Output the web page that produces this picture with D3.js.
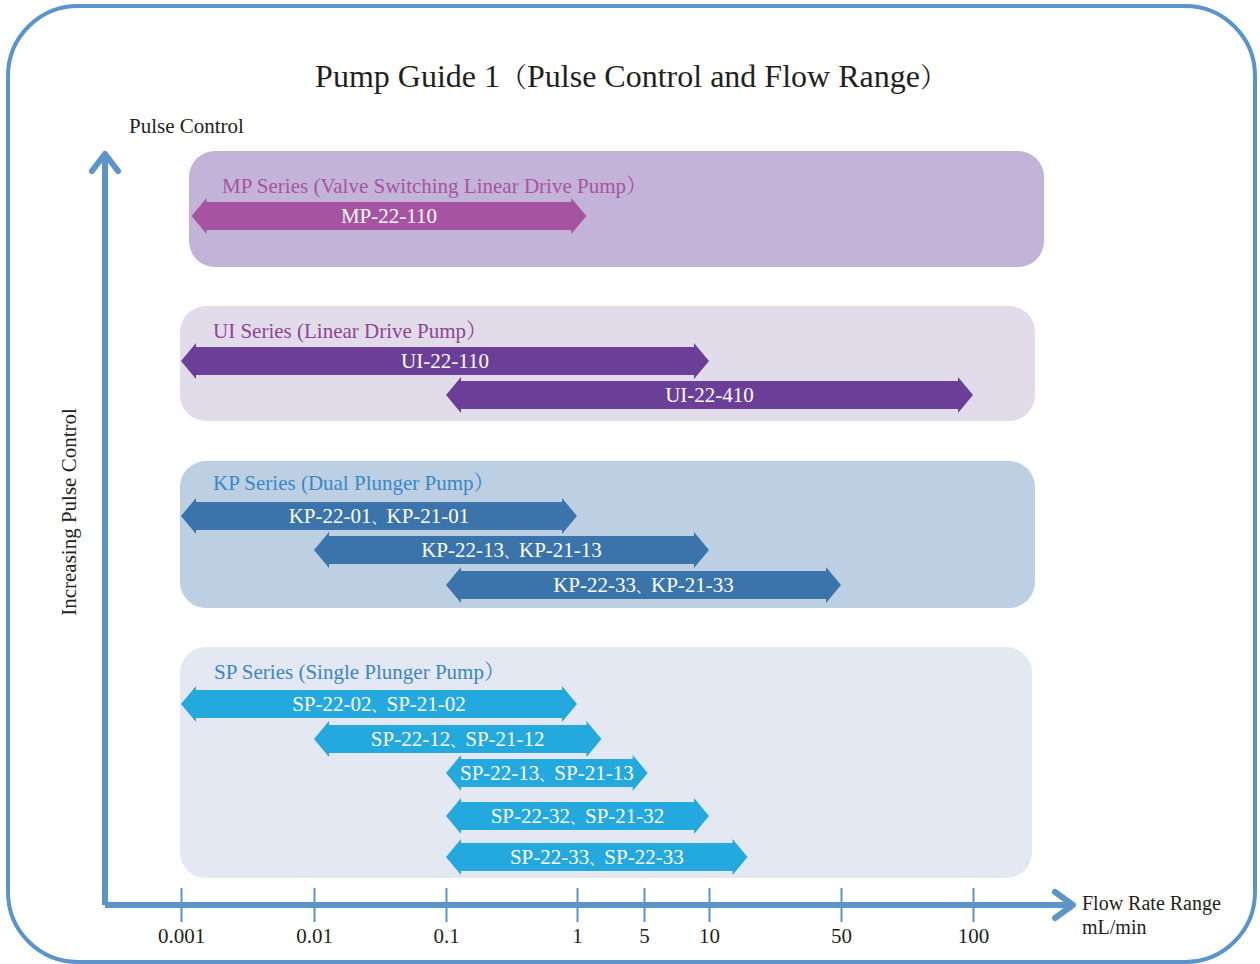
<!DOCTYPE html>
<html>
<head>
  <meta charset="utf-8"/>
  <title>Pump Guide 1</title>
  <script src="https://d3js.org/d3.v7.min.js"></script>
  <style>
    html, body {
      margin: 0;
      padding: 0;
      background: #fff;
      overflow: hidden;
    }
    svg {
      display: block;
      font-family: "Liberation Serif", "Times New Roman", "Noto Serif CJK SC", "Noto Sans CJK SC", serif;
    }
    .tick-label, .axis-text { font-size: 21px; fill: #231f20; }
    .arrow-label { font-size: 21px; fill: #fff; }
    .series-title { font-size: 21px; }
  </style>
</head>
<body>
  <div id="chart"></div>

  <script>
    // tick values on the flow axis (mL/min)
    const tickValues = [0.001, 0.01, 0.1, 1, 5, 10, 50, 100];

    // series (groups of pumps)
    const seriesNames = ["MP", "UI", "KP", "SP"];
    const seriesTitles = [
      "MP Series (Valve Switching Linear Drive Pump）",
      "UI Series (Linear Drive Pump）",
      "KP Series (Dual Plunger Pump）",
      "SP Series (Single Plunger Pump）"
    ];

    // pump models and their flow ranges
    const pumpSeries = ["MP", "UI", "UI", "KP", "KP", "KP", "SP", "SP", "SP", "SP", "SP"];
    const pumpModels = [
      "MP-22-110",
      "UI-22-110", "UI-22-410",
      "KP-22-01、KP-21-01", "KP-22-13、KP-21-13", "KP-22-33、KP-21-33",
      "SP-22-02、SP-21-02", "SP-22-12、SP-21-12", "SP-22-13、SP-21-13",
      "SP-22-32、SP-21-32", "SP-22-33、SP-22-33"
    ];
    const flowMin = [0.0012, 0.001, 0.1, 0.001, 0.01, 0.1, 0.001, 0.01, 0.1, 0.1, 0.1];
    const flowMax = [1.25, 10, 100, 1, 10, 50, 1, 1.8, 5.2, 10, 16];

    const width = 1260, height = 964;

    // layout of the panels (box top/bottom and arrow row offsets)
    const panelLayout = {
      MP: { x0: 189, x1: 1044, top: 151, bottom: 267, titleX: 222, titleDy: 42, rows: [65] },
      UI: { x0: 180, x1: 1035, top: 306, bottom: 421, titleX: 213, titleDy: 32, rows: [55, 89] },
      KP: { x0: 180, x1: 1035, top: 461, bottom: 608, titleX: 213, titleDy: 29, rows: [55, 89, 124] },
      SP: { x0: 180, x1: 1032, top: 647, bottom: 878, titleX: 214, titleDy: 32, rows: [57, 92, 126, 169, 210] }
    };
    const panelStyle = {
      MP: { fill: "#c4b3d8", arrow: "#a654a1", title: "#a654a1" },
      UI: { fill: "#e2dcea", arrow: "#6b3f98", title: "#8e4397" },
      KP: { fill: "#bdd0e3", arrow: "#3b74ab", title: "#3b86c6" },
      SP: { fill: "#e3e8f3", arrow: "#23a9de", title: "#3b86c6" }
    };
    const axisBlue = "#5a94c8";

    // piecewise log scale: decades equally spaced, 5 and 50 at the midpoints
    const x = d3.scaleLog()
      .domain(tickValues)
      .range([181, 314, 446, 577, 644, 709, 841, 973]);

    const svg = d3.select("#chart")
      .append("svg")
      .attr("width", width)
      .attr("height", height);

    // outer rounded frame
    svg.append("rect")
      .attr("x", 8).attr("y", 6)
      .attr("width", 1247).attr("height", 956)
      .attr("rx", 70).attr("ry", 70)
      .attr("fill", "none")
      .attr("stroke", axisBlue)
      .attr("stroke-width", 4);

    // title (full-width brackets set a bit smaller so they take less room)
    const title = svg.append("text")
      .attr("x", 631).attr("y", 87)
      .attr("text-anchor", "middle")
      .style("font-size", "32px")
      .style("fill", "#231f20");
    title.append("tspan").text("Pump Guide 1");
    title.append("tspan").style("font-size", "27px").text("（");
    title.append("tspan").text("Pulse Control and Flow Range");
    title.append("tspan").style("font-size", "27px").text("）");

    // panels
    const panels = svg.selectAll(".panel")
      .data(seriesNames)
      .enter().append("g")
      .attr("class", "panel");

    panels.append("rect")
      .attr("x", d => panelLayout[d].x0)
      .attr("y", d => panelLayout[d].top)
      .attr("width", d => panelLayout[d].x1 - panelLayout[d].x0)
      .attr("height", d => panelLayout[d].bottom - panelLayout[d].top)
      .attr("rx", 26).attr("ry", 26)
      .attr("fill", d => panelStyle[d].fill);

    panels.append("text")
      .attr("class", "series-title")
      .attr("x", d => panelLayout[d].titleX)
      .attr("y", d => panelLayout[d].top + panelLayout[d].titleDy)
      .style("fill", d => panelStyle[d].title)
      .text((d, i) => seriesTitles[i]);

    // arrows
    const rowCount = {};
    const pumps = pumpModels.map((m, i) => {
      const s = pumpSeries[i];
      rowCount[s] = (rowCount[s] || 0);
      const row = rowCount[s]++;
      return { model: m, series: s, lo: flowMin[i], hi: flowMax[i],
               cy: panelLayout[s].top + panelLayout[s].rows[row] };
    });

    function arrowPath(x0, x1, cy) {
      const hs = 14, hh = 18, hl = 15;
      return `M${x0},${cy} L${x0 + hl},${cy - hh} L${x0 + hl},${cy - hs} L${x1 - hl},${cy - hs}` +
        ` L${x1 - hl},${cy - hh} L${x1},${cy} L${x1 - hl},${cy + hh} L${x1 - hl},${cy + hs}` +
        ` L${x0 + hl},${cy + hs} L${x0 + hl},${cy + hh} Z`;
    }

    const arrows = svg.selectAll(".pump")
      .data(pumps)
      .enter().append("g")
      .attr("class", "pump");

    arrows.append("path")
      .attr("d", d => arrowPath(x(d.lo), x(d.hi), d.cy))
      .attr("fill", d => panelStyle[d.series].arrow);

    const labels = arrows.append("text")
      .attr("class", "arrow-label")
      .attr("x", d => (x(d.lo) + x(d.hi)) / 2)
      .attr("y", d => d.cy)
      .attr("dy", "0.35em")
      .attr("text-anchor", "middle");
    // the ideographic comma is set smaller so it doesn't open a wide gap
    labels.each(function(d) {
      const parts = d.model.split("、");
      const t = d3.select(this);
      parts.forEach((p, i) => {
        if (i > 0) t.append("tspan").style("font-size", "15px").text("、");
        t.append("tspan").text(p);
      });
    });

    // axes (drawn as thick arrows)
    const axisY = 905, axisX = 105;
    svg.append("path")
      .attr("d", `M${axisX},${axisY} L${axisX},155 M${axisX},${axisY} L1072,${axisY}`)
      .attr("fill", "none")
      .attr("stroke", axisBlue)
      .attr("stroke-width", 6);
    svg.append("path")
      .attr("d", `M${axisX - 13},171 L${axisX},154 L${axisX + 13},171`)
      .attr("fill", "none")
      .attr("stroke", axisBlue)
      .attr("stroke-width", 6)
      .attr("stroke-linecap", "round")
      .attr("stroke-linejoin", "round");
    svg.append("path")
      .attr("d", `M1055,${axisY - 13} L1073,${axisY} L1055,${axisY + 13}`)
      .attr("fill", "none")
      .attr("stroke", axisBlue)
      .attr("stroke-width", 6)
      .attr("stroke-linecap", "round")
      .attr("stroke-linejoin", "round");

    // x axis ticks and labels through d3.axisBottom
    const xAxis = svg.append("g")
      .attr("transform", `translate(0,${axisY})`)
      .call(d3.axisBottom(x)
        .tickValues(tickValues)
        .tickFormat(d => String(d))
        .tickSize(17)
        .tickPadding(6));
    xAxis.attr("font-family", null).attr("font-size", null);
    xAxis.select(".domain").remove();
    xAxis.selectAll(".tick line")
      .attr("y1", -17)
      .attr("stroke", axisBlue)
      .attr("stroke-width", 2);
    xAxis.selectAll(".tick text")
      .attr("class", "tick-label")
      .attr("fill", "#231f20");

    // axis titles
    svg.append("text")
      .attr("class", "axis-text")
      .attr("x", 129).attr("y", 133)
      .text("Pulse Control");

    svg.append("text")
      .attr("class", "axis-text")
      .attr("transform", "translate(76,512) rotate(-90)")
      .attr("text-anchor", "middle")
      .text("Increasing Pulse Control");

    svg.append("text")
      .attr("class", "axis-text")
      .attr("x", 1082).attr("y", 910)
      .style("font-size", "20px")
      .text("Flow Rate Range");
    svg.append("text")
      .attr("class", "axis-text")
      .attr("x", 1082).attr("y", 934)
      .style("font-size", "20px")
      .text("mL/min");
  </script>
</body>
</html>
